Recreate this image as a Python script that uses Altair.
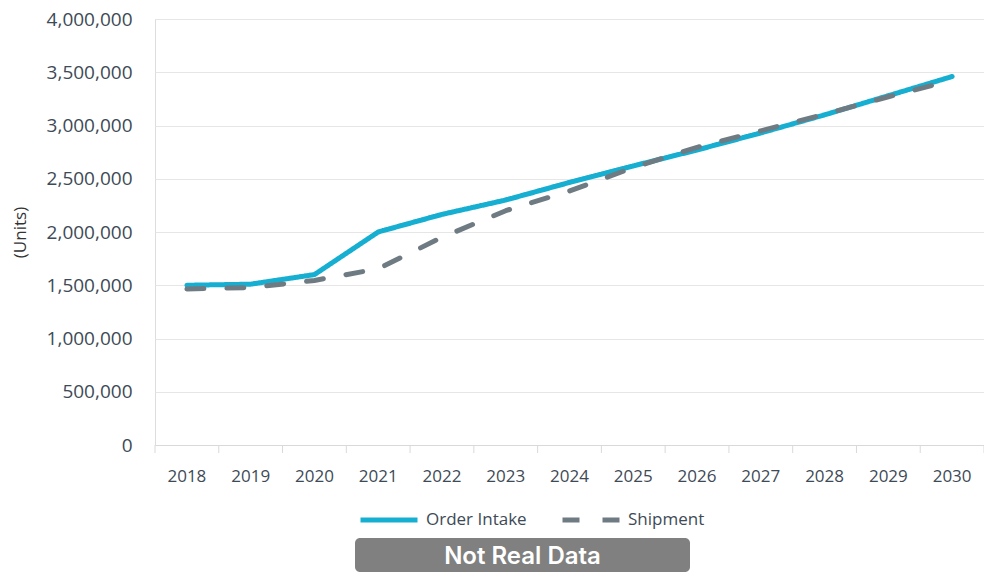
import altair as alt
import pandas as pd

years = ["2018", "2019", "2020", "2021", "2022", "2023", "2024",
         "2025", "2026", "2027", "2028", "2029", "2030"]
order_intake = [1500000, 1510000, 1600000, 2000000, 2165000, 2300000, 2465000,
                2620000, 2770000, 2930000, 3100000, 3280000, 3460000]
shipment = [1465000, 1478000, 1545000, 1655000, 1950000, 2200000, 2385000,
            2605000, 2795000, 2950000, 3105000, 3270000, 3425000]
y_ticks = [0, 500000, 1000000, 1500000, 2000000, 2500000, 3000000, 3500000, 4000000]
series_names = ["Order Intake", "Shipment"]
series_colors = ["#17AFD1", "#6F7B83"]
banner_text = ["Not Real Data"]

rows = []
for name, vals in zip(series_names, [order_intake, shipment]):
    for y, v in zip(years, vals):
        rows.append({"year": y, "value": v, "series": name})
df = pd.DataFrame(rows)

W, H = 829, 426
FONT = "Open Sans"
TXT = "#3E4A56"

xscale = alt.Scale(type="band", domain=years, paddingInner=0, paddingOuter=0)

legend_cfg = dict(title=None, orient="none", direction="horizontal",
                  legendX=203, legendY=470,
                  symbolType="stroke", symbolSize=3249, symbolStrokeWidth=5,
                  labelFontSize=17, labelColor=TXT, labelFont=FONT,
                  labelOffset=6, columnPadding=25)

lines = alt.Chart(df).mark_line(strokeWidth=5, strokeCap="round", strokeJoin="round").encode(
    x=alt.X("year:O", scale=xscale, bandPosition=0.5,
            axis=alt.Axis(title=None, ticks=False, labelAngle=0, labelPadding=23,
                          labelFontSize=17, labelColor=TXT, labelFont=FONT,
                          domainColor="#D9D9D9", grid=False)),
    y=alt.Y("value:Q", scale=alt.Scale(domain=[0, 4000000], nice=False),
            axis=alt.Axis(title="(Units)", values=y_ticks, labelOverlap=False,
                          format=",d", ticks=False, tickSize=0, domain=False,
                          labelPadding=23, labelFontSize=19, labelColor=TXT, labelFont=FONT,
                          titleFontSize=17, titleFont=FONT, titleColor="#333333",
                          titleFontWeight="normal", titlePadding=17,
                          gridColor="#E6E6E6", gridWidth=1.2)),
    color=alt.Color("series:N", scale=alt.Scale(domain=series_names, range=series_colors),
                    legend=alt.Legend(**legend_cfg)),
    strokeDash=alt.StrokeDash("series:N",
                              scale=alt.Scale(domain=series_names, range=[[1, 0], [17, 23]]),
                              legend=alt.Legend(**legend_cfg)),
)

tick_df = pd.DataFrame({"year": years})
ticks = alt.Chart(tick_df).mark_rule(color="#D9D9D9", strokeWidth=1).encode(
    x=alt.X("year:O", scale=xscale, bandPosition=0),
    y=alt.value(H), y2=alt.value(H + 8),
)
last_tick = alt.Chart(tick_df.head(1)).mark_rule(color="#D9D9D9", strokeWidth=1).encode(
    x=alt.value(W), y=alt.value(H), y2=alt.value(H + 8),
)

banner_df = pd.DataFrame({"t": banner_text})
banner_box = alt.Chart(banner_df).mark_rect(color="#7F807F", cornerRadius=5, clip=False).encode(
    x=alt.value(200), x2=alt.value(535), y=alt.value(519), y2=alt.value(553),
)
banner_txt = alt.Chart(banner_df).mark_text(color="white", font="Inter", fontSize=24,
                                            fontWeight=600, baseline="middle", align="center").encode(
    text="t:N", x=alt.value(367.5), y=alt.value(537.5),
)

chart = alt.layer(lines, ticks, last_tick, banner_box, banner_txt).properties(
    width=W, height=H,
    autosize=alt.AutoSizeParams(type="none"),
    padding={"left": 147, "top": 11, "right": 0, "bottom": 128},
).configure_view(stroke=None).configure(font=FONT)

chart.save("out.html", embed_options={"renderer": "svg", "actions": False})
